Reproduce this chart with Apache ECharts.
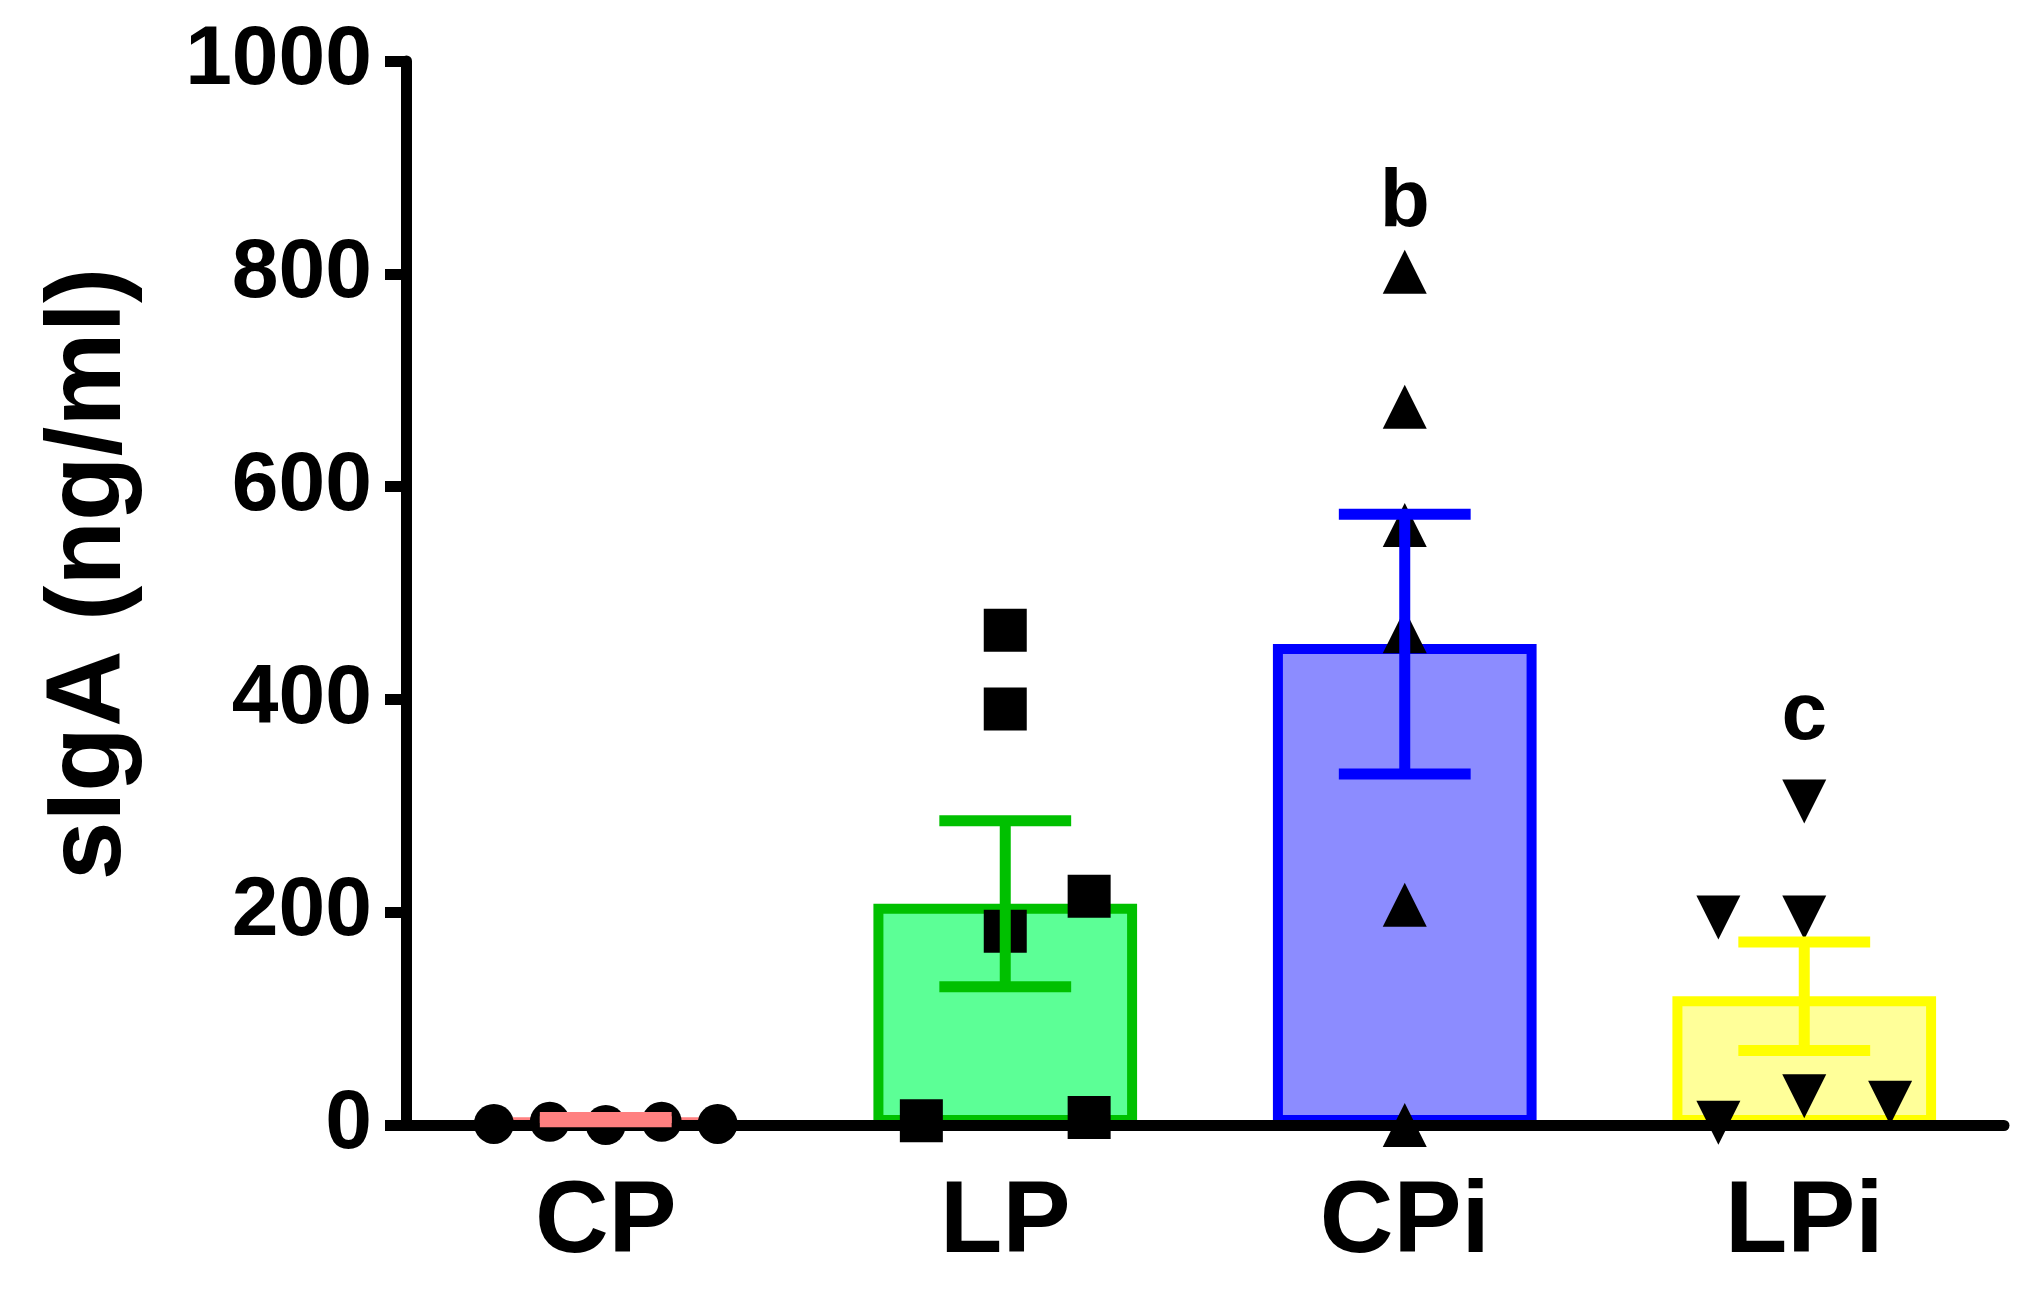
<!DOCTYPE html>
<html>
<head>
<meta charset="utf-8">
<script src="https://cdn.jsdelivr.net/npm/echarts@6/dist/echarts.min.js"></script>
<style>
  html, body, #main {
    width: 100%;
    height: 100%;
    margin: 0;
    background: #fff;
  }
</style>
</head>
<body>
<div id="main"></div>
<script>
// groups and read-off values (ng/ml)
var groups = ['CP', 'LP', 'CPi', 'LPi']
var means = [5, 208, 452, 121]
var sems = [2, 78, 122, 51]

// individual animals per group
var cpPoints = [1, 3, 0, 3, 1]
var lpPoints = [465, 391, 215, 182, 4, 7]
var cpiPoints = [802, 675, 564, 464, 207, 0]
var lpiPoints = [304, 195, 195, 2, 27, 21]

// significance letters: group index, height, text
var letterGroups = [2, 3]
var letterValues = [866, 384]
var letterTexts = ['b', 'c']

var yTicks = [0, 200, 400, 600, 800, 1000]

// --- layout / style ---
// horizontal spread of the dots inside a group (in category widths)
var cpSpread = [-0.28, -0.14, 0, 0.14, 0.28]
var lpSpread = [0, 0, 0.21, 0, -0.21, 0.21]
var cpiSpread = [0, 0, 0, 0, 0, 0]
var lpiSpread = [0, -0.215, 0, -0.215, 0, 0.215]

var fills = ['#ff8080', '#5cff96', '#8c8cff', '#ffff99']
var borders = ['#ff8080', '#00c000', '#0000ff', '#ffff00']
var symbols = ['circle', 'rect', 'triangle', 'triangle']
var symbolSizes = [40, 43, 44, 44]
var symbolRotates = [0, 0, 0, 180]

var FONT = '"Liberation Sans", Arial, sans-serif'
var LINE = 11

var chart = echarts.init(document.getElementById('main'))

var barData = means.map(function (m, i) {
  return {
    value: m,
    itemStyle: { color: fills[i], borderColor: borders[i], borderWidth: 10 }
  }
})

var errData = means.map(function (m, i) {
  return [i, m - sems[i], m + sems[i]]
})

var pointSets = [cpPoints, lpPoints, cpiPoints, lpiPoints]
var spreads = [cpSpread, lpSpread, cpiSpread, lpiSpread]
var scatterSeries = pointSets.map(function (pts, g) {
  return {
    type: 'scatter',
    xAxisIndex: 1,
    z: 3,
    symbol: symbols[g],
    symbolSize: symbolSizes[g],
    symbolRotate: symbolRotates[g],
    itemStyle: { color: '#000', opacity: 1 },
    data: pts.map(function (v, k) { return [g + spreads[g][k], v] })
  }
})

var letterData = letterGroups.map(function (g, i) {
  return [g, letterValues[i], letterTexts[i]]
})

var option = {
  animation: false,
  backgroundColor: '#fff',
  grid: { left: 406, right: 33, top: 61, bottom: 176, containLabel: false },
  xAxis: [{
    type: 'category',
    data: groups,
    z: 5,
    axisLine: { lineStyle: { color: '#000', width: LINE } },
    axisTick: { alignWithLabel: true, length: 20, lineStyle: { color: '#000', width: LINE } },
    axisLabel: { color: '#000', fontSize: 102, fontWeight: 'bold', fontFamily: FONT, margin: 48 },
    splitLine: { show: false }
  }, {
    type: 'value',
    min: -0.5,
    max: 3.5,
    show: false
  }],
  yAxis: {
    type: 'value',
    min: 0,
    max: 1000,
    interval: 200,
    name: 'sIgA (ng/ml)',
    nameLocation: 'middle',
    nameRotate: 90,
    nameGap: 262,
    nameTextStyle: {
      color: '#000', fontSize: 106, fontWeight: 'bold', fontFamily: FONT,
      padding: [0, 0, 0, 38]
    },
    axisLine: { show: true, onZero: false, lineStyle: { color: '#000', width: LINE } },
    axisTick: { show: true, length: 21, lineStyle: { color: '#000', width: LINE } },
    axisLabel: {
      color: '#000', fontSize: 84, fontWeight: 'bold', fontFamily: FONT, margin: 34,
      formatter: function (v) { return yTicks.indexOf(v) >= 0 ? String(v) : '' }
    },
    splitLine: { show: false }
  },
  series: [{
    type: 'bar',
    z: 2,
    barWidth: '66%',
    data: barData
  }].concat(scatterSeries).concat([{
    // mean +/- SEM whiskers
    type: 'custom',
    z: 10,
    data: errData,
    renderItem: function (params, api) {
      var i = api.value(0)
      var lo = api.coord([i, api.value(1)])
      var hi = api.coord([i, api.value(2)])
      var half = api.size([1, 0])[0] * 0.165
      var st = { stroke: borders[i], lineWidth: LINE, fill: null }
      return {
        type: 'group',
        children: [
          { type: 'line', shape: { x1: hi[0], y1: hi[1], x2: lo[0], y2: lo[1] }, style: st },
          { type: 'line', shape: { x1: hi[0] - half, y1: hi[1], x2: hi[0] + half, y2: hi[1] }, style: st },
          { type: 'line', shape: { x1: lo[0] - half, y1: lo[1], x2: lo[0] + half, y2: lo[1] }, style: st }
        ]
      }
    }
  }, {
    // letters above groups
    type: 'custom',
    z: 10,
    data: letterData,
    renderItem: function (params, api) {
      var p = api.coord([api.value(0), api.value(1)])
      return {
        type: 'text',
        x: p[0],
        y: p[1],
        style: {
          text: letterTexts[params.dataIndex],
          fill: '#000',
          font: 'bold 82px ' + FONT,
          align: 'center',
          verticalAlign: 'middle'
        }
      }
    }
  }])
}

chart.setOption(option)
</script>
</body>
</html>
